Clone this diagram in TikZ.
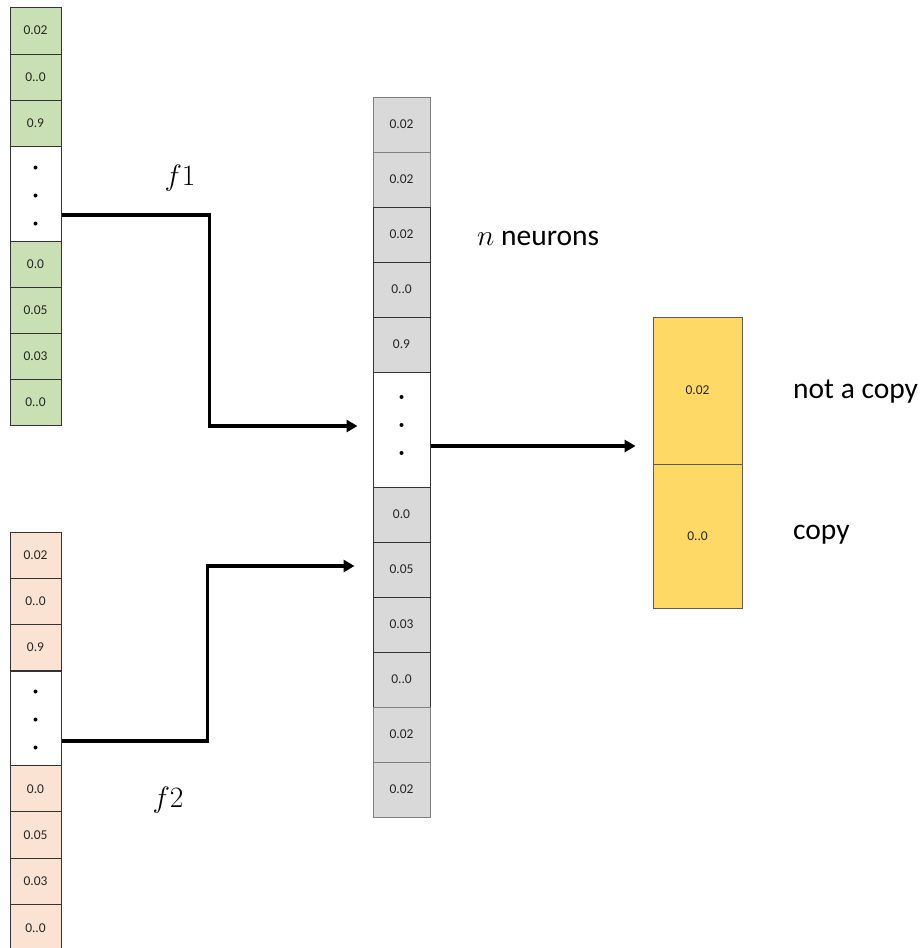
\documentclass[tikz,border=0pt]{standalone}
\usepackage{fix-cm}
\usepackage{fontspec}
\setmainfont{Carlito}
\usetikzlibrary{arrows.meta}
\definecolor{greenfill}{HTML}{C9E0B4}
\definecolor{salmonfill}{HTML}{FBE3D4}
\definecolor{grayfill}{HTML}{D9D9D9}
\definecolor{yellowfill}{HTML}{FFD966}
\definecolor{darkedge}{HTML}{333333}
\definecolor{grayedge}{HTML}{808080}
\tikzset{
  cell/.style={draw=darkedge, line width=1pt, inner sep=0pt, minimum width=51pt,
    font=\fontsize{13.5}{15}\selectfont, text=black!85},
  gcell/.style={cell, fill=greenfill, minimum height=46pt},
  scell/.style={cell, fill=salmonfill, minimum height=46.5pt},
  mcell/.style={cell, fill=grayfill, minimum width=57pt, minimum height=55pt},
  mlight/.style={mcell, draw=grayedge},
  dotcell/.style={cell, fill=white},
  ycell/.style={cell, fill=yellowfill, draw=darkedge!80, line width=0.8pt, minimum width=89pt},
  conn/.style={line width=3.6pt, -{Triangle[length=11pt,width=12pt]}},
  biglabel/.style={font=\fontsize{29.5}{33}\selectfont, inner sep=0pt},
  dotmark/.style={fill=black}
}
\begin{document}
\begin{tikzpicture}[x=1pt,y=-1pt]
\useasboundingbox (0,0) rectangle (923,948);
% green column
\node[gcell, minimum height=47pt] (g1) at (35.5,30.5) {0.02};
\node[gcell] (g2) at (35.5,77) {0..0};
\node[gcell] (g3) at (35.5,123) {0.9};
\node[dotcell, minimum height=95pt] (g4) at (35.5,193.5) {};
\node[gcell] (g5) at (35.5,264) {0.0};
\node[gcell] (g6) at (35.5,310) {0.05};
\node[gcell] (g7) at (35.5,356) {0.03};
\node[gcell] (g8) at (35.5,402) {0..0};
\fill[dotmark] ([yshift=26pt]g4.center) circle (2pt);
\fill[dotmark] ([yshift=-2pt]g4.center) circle (2pt);
\fill[dotmark] ([yshift=-30pt]g4.center) circle (2pt);
% salmon column
\node[scell] (s1) at (35.5,555.5) {0.02};
\node[scell] (s2) at (35.5,601.5) {0..0};
\node[scell] (s3) at (35.5,647.5) {0.9};
\node[dotcell, minimum height=95pt] (s4) at (35.5,718.5) {};
\node[scell] (s5) at (35.5,789) {0.0};
\node[scell] (s6) at (35.5,835) {0.05};
\node[scell] (s7) at (35.5,881.5) {0.03};
\node[scell] (s8) at (35.5,928) {0..0};
\fill[dotmark] ([yshift=27pt]s4.center) circle (2pt);
\fill[dotmark] ([yshift=-1pt]s4.center) circle (2pt);
\fill[dotmark] ([yshift=-29pt]s4.center) circle (2pt);
% middle column
\node[mlight] (m1) at (401.5,124.5) {0.02};
\node[mlight] (m2) at (401.5,179.5) {0.02};
\node[mcell] (m3) at (401.5,234.5) {0.02};
\node[mcell] (m4) at (401.5,289.5) {0..0};
\node[mcell] (m5) at (401.5,344.5) {0.9};
\node[dotcell, minimum width=57pt, minimum height=115pt] (m6) at (401.5,429.5) {};
\node[mcell] (m7) at (401.5,514.5) {0.0};
\node[mcell] (m8) at (401.5,569.5) {0.05};
\node[mcell] (m9) at (401.5,624.5) {0.03};
\node[mcell] (m10) at (401.5,679.5) {0..0};
\node[mlight] (m11) at (401.5,734.5) {0.02};
\node[mlight] (m12) at (401.5,789.5) {0.02};
\fill[dotmark] ([yshift=32.5pt]m6.center) circle (2pt);
\fill[dotmark] ([yshift=4.5pt]m6.center) circle (2pt);
\fill[dotmark] ([yshift=-23.5pt]m6.center) circle (2pt);
% yellow output
\node[ycell, minimum height=147pt] (y1) at (697.5,390.5) {0.02};
\node[ycell, minimum height=144pt] (y2) at (697.5,536) {0..0};
% connectors
\draw[conn] ([yshift=-21.5pt]g4.east) -- ++(148,0) |- ([xshift=-15pt,yshift=3.5pt]m6.west);
\draw[conn] ([yshift=-22.5pt]s4.east) -- ++(146,0) |- ([xshift=-18pt,yshift=3.5pt]m8.west);
\draw[conn] ([yshift=-16.5pt]m6.east) -- ([xshift=-17pt,yshift=-55.5pt]y1.west);
% labels
\node[biglabel] (lf1) at (180,178) {$f1$};
\node[biglabel] (lf2) at (168,800) {$f2$};
\node[biglabel, anchor=west] (lneur) at (477,238) {$n$ neurons};
\node[biglabel, anchor=west] (lnot) at (793,392) {not a copy};
\node[biglabel, anchor=west] (lcopy) at (793,535) {copy};
\end{tikzpicture}
\end{document}
